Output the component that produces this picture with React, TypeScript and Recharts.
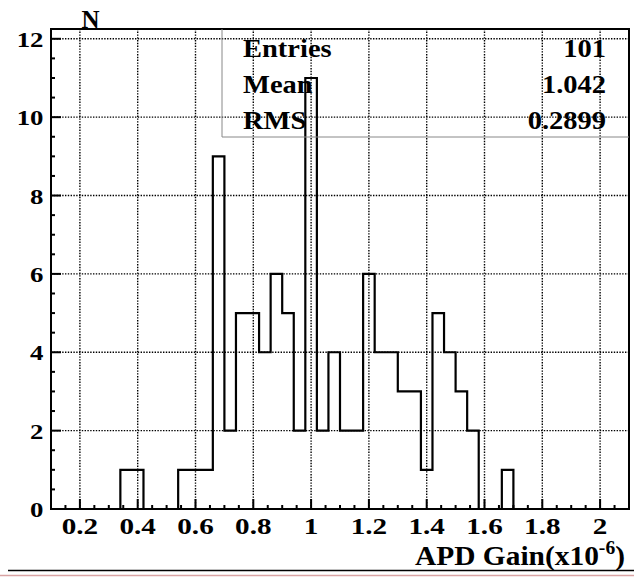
import { ComposedChart, Line, XAxis, YAxis, ReferenceLine } from "recharts";

// histogram: 50 bins of 0.04 over [0.1, 2.1]
const binLow = [
  0.1, 0.14, 0.18, 0.22, 0.26, 0.3, 0.34, 0.38, 0.42, 0.46,
  0.5, 0.54, 0.58, 0.62, 0.66, 0.7, 0.74, 0.78, 0.82, 0.86,
  0.9, 0.94, 0.98, 1.02, 1.06, 1.1, 1.14, 1.18, 1.22, 1.26,
  1.3, 1.34, 1.38, 1.42, 1.46, 1.5, 1.54, 1.58, 1.62, 1.66,
  1.7, 1.74, 1.78, 1.82, 1.86, 1.9, 1.94, 1.98, 2.02, 2.06,
];
const counts = [
  0, 0, 0, 0, 0, 0, 1, 1, 0, 0,
  0, 1, 1, 1, 9, 2, 5, 5, 4, 6,
  5, 2, 11, 2, 4, 2, 2, 6, 4, 4,
  3, 3, 1, 5, 4, 3, 2, 0, 0, 1,
  0, 0, 0, 0, 0, 0, 0, 0, 0, 0,
];
const xMin = 0.1;
const xMax = 2.1;
const yMax = 12.25;

const xTicks = [0.2, 0.4, 0.6, 0.8, 1, 1.2, 1.4, 1.6, 1.8, 2];
const xTickLabels = ["0.2", "0.4", "0.6", "0.8", "1", "1.2", "1.4", "1.6", "1.8", "2"];
const yTicks = [0, 2, 4, 6, 8, 10, 12];
const yTickLabels = ["0", "2", "4", "6", "8", "10", "12"];

const statNames = ["Entries", "Mean", "RMS"];
const statValues = ["101", "1.042", "0.2899"];

const data = binLow.map((x, i) => ({ x, n: counts[i] }));
data.push({ x: xMax, n: 0 });

// minor tick positions (every 0.05 on x, every 0.5 on y)
const xMinor: number[] = [];
for (let i = 3; i <= 41; i++) xMinor.push(Math.round(i * 5) / 100);
const yMinor: number[] = [];
for (let i = 0; i <= 24; i++) yMinor.push(i / 2);

const FONT = "'Liberation Serif', 'Times New Roman', serif";

const findIdx = (arr: number[], v: number) => arr.findIndex((t) => Math.abs(t - v) < 1e-6);

const XTick = (props: any) => {
  const { x, y, payload } = props;
  const idx = findIdx(xTicks, payload.value);
  const len = idx >= 0 ? 10 : 4;
  return (
    <g>
      <line x1={x} x2={x} y1={y} y2={y - len} stroke="#000" strokeWidth={2} />
      {idx >= 0 && (
        <text
          transform={`translate(${x},${y + 25}) scale(1.27,1)`}
          textAnchor="middle"
          fontFamily={FONT}
          fontWeight="bold"
          fontSize={23}
          fill="#000"
        >
          {xTickLabels[idx]}
        </text>
      )}
    </g>
  );
};

const YTick = (props: any) => {
  const { x, y, payload } = props;
  const idx = findIdx(yTicks, payload.value);
  const len = idx >= 0 ? 10 : 4;
  return (
    <g>
      <line x1={x} x2={x + len} y1={y} y2={y} stroke="#000" strokeWidth={2} />
      {idx >= 0 && (
        <text
          transform={`translate(${x - 7.5},${y + 8}) scale(1.22,1)`}
          textAnchor="end"
          fontFamily={FONT}
          fontWeight="bold"
          fontSize={22}
          fill="#000"
        >
          {yTickLabels[idx]}
        </text>
      )}
    </g>
  );
};

export default function App() {
  return (
    <div style={{ position: "fixed", left: 0, top: 0, width: 634, height: 577, background: "#fff" }}>
      <ComposedChart
        width={634}
        height={577}
        data={data}
        margin={{ top: 29, right: 5, bottom: 0, left: 0 }}
      >
        <XAxis
          type="number"
          dataKey="x"
          domain={[xMin, xMax]}
          ticks={xMinor}
          interval={0}
          allowDataOverflow
          height={68}
          axisLine={false}
          tickLine={false}
          tickSize={0}
          tickMargin={0}
          tick={<XTick />}
        />
        <YAxis
          type="number"
          domain={[0, yMax]}
          ticks={yMinor}
          interval={0}
          allowDataOverflow
          width={51}
          axisLine={false}
          tickLine={false}
          tickSize={0}
          tickMargin={0}
          tick={<YTick />}
        />
        {xTicks.map((v) => (
          <ReferenceLine key={"gx" + v} x={v} stroke="#000" strokeWidth={1.4} strokeDasharray="1.4 1.4" />
        ))}
        {yTicks.slice(1).map((v) => (
          <ReferenceLine key={"gy" + v} y={v} stroke="#000" strokeWidth={1.4} strokeDasharray="1.4 1.4" />
        ))}
        <Line
          type="stepAfter"
          dataKey="n"
          stroke="#000"
          strokeWidth={2.2}
          dot={false}
          activeDot={false}
          isAnimationActive={false}
        />
      </ComposedChart>
      <svg
        width={634}
        height={577}
        style={{ position: "absolute", left: 0, top: 0, pointerEvents: "none" }}
      >
        {/* frame */}
        <rect x={51} y={29} width={578} height={480} fill="none" stroke="#000" strokeWidth={2} />
        {/* stats box */}
        <polyline points="222,29 222,137 629,137" fill="none" stroke="#888" strokeWidth={1} />
        {statNames.map((s, i) => (
          <g key={s}>
            <text
              transform={`translate(243,${57 + i * 35.8}) scale(1.14,1)`}
              fontFamily={FONT}
              fontWeight="bold"
              fontSize={25}
              fill="#000"
            >
              {s}
            </text>
            <text
              transform={`translate(606,${57 + i * 35.8}) scale(1.14,1)`}
              textAnchor="end"
              fontFamily={FONT}
              fontWeight="bold"
              fontSize={25}
              fill="#000"
            >
              {statValues[i]}
            </text>
          </g>
        ))}
        <text
          transform="translate(81.5,28.3)"
          fontFamily={FONT}
          fontWeight="bold"
          fontSize={25}
          fill="#000"
        >
          N
        </text>
        <text
          transform="translate(625,564.5) scale(1.09,1)"
          textAnchor="end"
          fontFamily={FONT}
          fontWeight="bold"
          fontSize={27}
          fill="#000"
        >
          APD Gain(x10
          <tspan fontSize={18} dy={-11}>-6</tspan>
          <tspan dy={11}>)</tspan>
        </text>
        <line x1={8} x2={634} y1={570.5} y2={570.5} stroke="#000" strokeWidth={1.5} />
        <line x1={0} x2={634} y1={575.5} y2={575.5} stroke="#d9a3a3" strokeWidth={1.5} />
      </svg>
    </div>
  );
}
